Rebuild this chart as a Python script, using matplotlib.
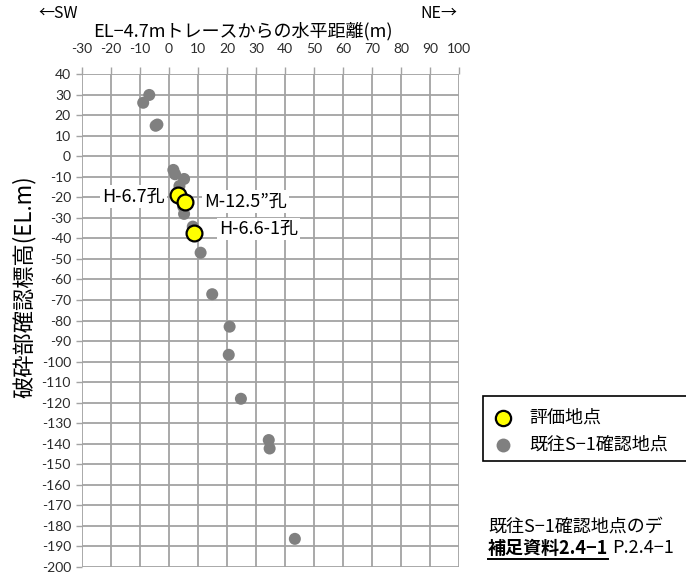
import matplotlib
matplotlib.use("Agg")
import matplotlib.pyplot as plt
from matplotlib.patches import Rectangle
from matplotlib.lines import Line2D

plt.rcParams['font.family'] = ['Noto Sans CJK JP', 'DejaVu Sans']
plt.rcParams['axes.unicode_minus'] = False

# existing S-1 confirmation points (grey)
past_x = [-8.9, -6.8, -4.6, -4.0, 1.5, 2.1, 5.2, 3.6, 4.9, 5.2, 8.2, 10.9,
          14.9, 20.9, 20.6, 24.8, 34.4, 34.7, 43.4]
past_y = [26.0, 29.8, 14.8, 15.4, -6.7, -8.8, -11.1, -14.5, -24.6, -28.1, -34.3, -47.0,
          -67.2, -83.0, -96.7, -118.1, -138.2, -142.3, -186.3]

# evaluation points (yellow)
eval_names = ["H-6.7孔", "M-12.5\u201d孔", "H-6.6-1孔"]
eval_x = [3.0, 5.5, 8.7]
eval_y = [-18.9, -22.1, -37.5]

x_ticks = list(range(-30, 101, 10))
y_ticks = list(range(40, -201, -10))

GRID = "#a3a3a3"
TICK_TXT = "#2b2b2b"
FS_LABEL = 13

fig = plt.figure(figsize=(6.86, 5.81), dpi=100)
ax = fig.add_axes([82 / 686, 1 - 567 / 581, (459 - 82) / 686, (567 - 74) / 581])

ax.set_xlim(-30, 100)
ax.set_ylim(-200, 40)
ax.set_xticks(x_ticks)
ax.set_yticks(y_ticks)
ax.xaxis.tick_top()
ax.tick_params(axis="x", length=5, width=1.0, color=GRID, pad=9,
               labelsize=10, labelcolor=TICK_TXT, labelfontfamily="Lato")
ax.tick_params(axis="y", length=4, width=1.0, color=GRID, pad=4,
               labelsize=10, labelcolor=TICK_TXT, labelfontfamily="Lato")
for s in ax.spines.values():
    s.set_visible(False)

# grid drawn as plain lines
for xv in x_ticks:
    ax.axvline(xv, color=GRID, linewidth=1.3, zorder=1)
for yv in y_ticks:
    ax.axhline(yv, color=GRID, linewidth=1.3, zorder=1)

ax.scatter(past_x, past_y, s=75, color="#808080", edgecolors="none", zorder=3)
ax.scatter(eval_x, eval_y, s=130, color="#ffff00", edgecolors="black",
           linewidths=1.6, zorder=5)

box = dict(facecolor="white", edgecolor="none", pad=1.5)
ax.annotate(eval_names[0], (eval_x[0], eval_y[0]), xytext=(-9, -1),
            textcoords="offset points", ha="right", va="center",
            fontsize=FS_LABEL, bbox=box, zorder=2)
ax.annotate(eval_names[1], (eval_x[1], eval_y[1]), xytext=(14, 0),
            textcoords="offset points", ha="left", va="center",
            fontsize=FS_LABEL, bbox=box, zorder=2)
ax.annotate(eval_names[2], (eval_x[2], eval_y[2]), xytext=(18, 3),
            textcoords="offset points", ha="left", va="center",
            fontsize=FS_LABEL, bbox=box, zorder=2)

# header texts
fig.text(243 / 686, 1 - 31 / 581, "EL\u22124.7mトレースからの水平距離(m)",
         ha="center", va="center", fontsize=13)
fig.text(38 / 686, 1 - 14 / 581, "\u2190SW", ha="left", va="center", fontsize=11.5)
fig.text(420 / 686, 1 - 14 / 581, "NE\u2192", ha="left", va="center", fontsize=11.5)
fig.text(24 / 686, 1 - 287 / 581, "破砕部確認標高(EL.m)", rotation=90,
         ha="center", va="center", fontsize=16)

# legend box (runs off the right edge)
fig.patches.append(Rectangle((483 / 686, 1 - 461 / 581), 0.4, 65 / 581,
                             transform=fig.transFigure, facecolor="white",
                             edgecolor="black", linewidth=1.2))
fig.add_artist(Line2D([503 / 686], [1 - 418 / 581], marker="o", markersize=11,
                      markerfacecolor="#ffff00", markeredgecolor="black",
                      markeredgewidth=1.6, transform=fig.transFigure))
fig.add_artist(Line2D([503 / 686], [1 - 445 / 581], marker="o", markersize=10,
                      markerfacecolor="#808080", markeredgecolor="none",
                      transform=fig.transFigure))
fig.text(529 / 686, 1 - 418 / 581, "評価地点", ha="left", va="center", fontsize=13)
fig.text(529 / 686, 1 - 445 / 581, "既往S\u22121確認地点", ha="left", va="center",
         fontsize=13)

# note at the bottom right
fig.text(488 / 686, 1 - 527 / 581, "既往S\u22121確認地点のデ", ha="left", va="center",
         fontsize=13)
t = fig.text(488 / 686, 1 - 548 / 581, "補足資料2.4\u22121", ha="left", va="center",
             fontsize=13, fontweight="bold")
fig.canvas.draw()
bb = t.get_window_extent()
fig.add_artist(Line2D([bb.x0 / fig.bbox.width, bb.x1 / fig.bbox.width],
                      [(bb.y0 - 1) / fig.bbox.height] * 2, color="black",
                      linewidth=1.4, transform=fig.transFigure))
fig.text(bb.x1 / fig.bbox.width + 0.006, 1 - 548 / 581, "P.2.4\u22121",
         ha="left", va="center", fontsize=13)

fig.savefig("out.png", dpi=100)
